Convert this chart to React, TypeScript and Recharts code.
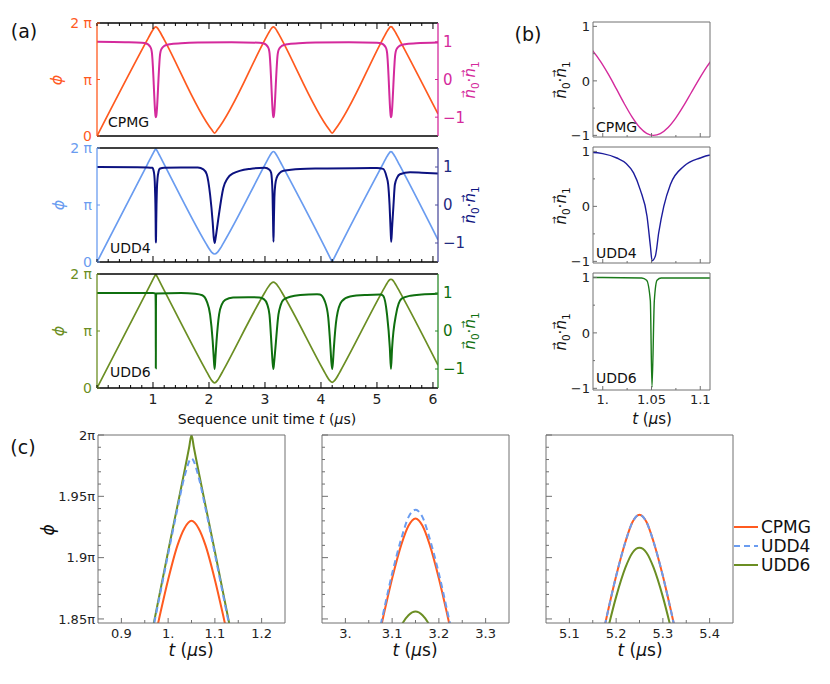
import React from "react";
import {Legend, Line, LineChart, XAxis, YAxis} from "recharts";

// phase phi in units of pi, time t in microseconds
const CPMG_PHI = [
    [0, 0],
    [0.9, 1.706], [0.95, 1.797], [0.98, 1.849], [1.0, 1.882], [1.02, 1.91], [1.035, 1.924], [1.05, 1.93],
    [1.065, 1.924], [1.08, 1.91], [1.1, 1.882], [1.12, 1.849], [1.15, 1.797], [1.2, 1.706],
    [2.05, 0.11], [2.1, 0.05], [2.15, 0.11],
    [3.0, 1.706], [3.05, 1.798], [3.08, 1.85], [3.1, 1.883], [3.12, 1.911], [3.135, 1.926], [3.15, 1.932],
    [3.165, 1.926], [3.18, 1.911], [3.2, 1.883], [3.22, 1.85], [3.25, 1.798], [3.3, 1.706],
    [4.15, 0.11], [4.2, 0.05], [4.25, 0.11],
    [5.1, 1.707], [5.15, 1.799], [5.18, 1.852], [5.2, 1.885], [5.22, 1.913], [5.235, 1.929], [5.25, 1.935],
    [5.265, 1.929], [5.28, 1.913], [5.3, 1.885], [5.32, 1.852], [5.35, 1.799], [5.4, 1.707],
    [6.09, 0.39],
];
const UDD4_PHI = [
    [0, 0],
    [0.9, 1.714], [0.95, 1.809], [0.98, 1.865], [1.0, 1.903], [1.02, 1.94], [1.035, 1.966], [1.05, 1.981],
    [1.065, 1.966], [1.08, 1.94], [1.1, 1.903], [1.12, 1.865], [1.15, 1.809], [1.2, 1.714],
    [1.95, 0.318], [2.0, 0.236], [2.05, 0.169], [2.1, 0.14], [2.15, 0.169], [2.2, 0.236], [2.25, 0.318],
    [3.0, 1.708], [3.05, 1.8], [3.08, 1.853], [3.1, 1.887], [3.12, 1.916], [3.135, 1.933], [3.15, 1.939],
    [3.165, 1.933], [3.18, 1.916], [3.2, 1.887], [3.22, 1.853], [3.25, 1.8], [3.3, 1.708],
    [4.18, 0.04], [4.2, 0.0], [4.22, 0.04],
    [5.1, 1.707], [5.15, 1.799], [5.18, 1.852], [5.2, 1.885], [5.22, 1.913], [5.235, 1.929], [5.25, 1.935],
    [5.265, 1.929], [5.28, 1.913], [5.3, 1.885], [5.32, 1.852], [5.35, 1.799], [5.4, 1.707],
    [6.09, 0.39],
];
const UDD6_PHI = [
    [0, 0],
    [0.9, 1.714], [1.0, 1.905], [1.045, 1.99], [1.05, 2.0], [1.055, 1.99], [1.1, 1.905], [1.2, 1.714],
    [1.95, 0.3], [2.0, 0.211], [2.05, 0.131], [2.1, 0.09], [2.15, 0.131], [2.2, 0.211], [2.25, 0.3],
    [3.0, 1.68], [3.05, 1.761], [3.08, 1.804], [3.1, 1.828], [3.12, 1.845], [3.135, 1.853], [3.15, 1.856],
    [3.165, 1.853], [3.18, 1.845], [3.2, 1.828], [3.22, 1.804], [3.25, 1.761], [3.3, 1.68],
    [4.05, 0.303], [4.1, 0.215], [4.15, 0.138], [4.2, 0.1], [4.25, 0.138], [4.3, 0.215], [4.35, 0.303],
    [5.1, 1.7], [5.15, 1.788], [5.18, 1.838], [5.2, 1.868], [5.22, 1.892], [5.235, 1.904], [5.25, 1.908],
    [5.265, 1.904], [5.28, 1.892], [5.3, 1.868], [5.32, 1.838], [5.35, 1.788], [5.4, 1.7],
    [6.09, 0.4],
];

// overlap n0.n1
const CPMG_N = [
    [0, 1.0], [0.5, 0.99], [0.8, 0.975], [0.88, 0.955], [0.92, 0.92], [0.95, 0.87], [0.97, 0.8], [0.982, 0.696],
    [0.99, 0.544], [0.998, 0.348], [1.006, 0.113], [1.014, -0.148], [1.022, -0.415], [1.03, -0.66],
    [1.038, -0.855], [1.045, -0.963], [1.052, -1.0], [1.059, -0.968], [1.067, -0.856], [1.075, -0.679],
    [1.083, -0.456], [1.091, -0.209], [1.099, 0.036], [1.107, 0.264], [1.115, 0.462], [1.123, 0.622],
    [1.135, 0.74], [1.16, 0.83], [1.2, 0.89], [1.3, 0.935], [1.5, 0.96], [1.8, 0.98], [2.4, 0.99],
    [2.9, 0.975], [2.98, 0.955], [3.02, 0.92], [3.05, 0.87], [3.07, 0.8], [3.082, 0.696],
    [3.09, 0.544], [3.098, 0.348], [3.106, 0.113], [3.114, -0.148], [3.122, -0.415], [3.13, -0.66],
    [3.138, -0.855], [3.145, -0.963], [3.152, -1.0], [3.159, -0.968], [3.167, -0.856], [3.175, -0.679],
    [3.183, -0.456], [3.191, -0.209], [3.199, 0.036], [3.207, 0.264], [3.215, 0.462], [3.223, 0.622],
    [3.235, 0.74], [3.26, 0.83], [3.3, 0.89], [3.4, 0.935], [3.6, 0.96], [3.9, 0.98], [4.5, 0.99],
    [5.0, 0.975], [5.08, 0.955], [5.12, 0.92], [5.15, 0.87], [5.17, 0.8], [5.182, 0.696],
    [5.19, 0.544], [5.198, 0.348], [5.206, 0.113], [5.214, -0.148], [5.222, -0.415], [5.23, -0.66],
    [5.238, -0.855], [5.245, -0.963], [5.252, -1.0], [5.259, -0.968], [5.267, -0.856], [5.275, -0.679],
    [5.283, -0.456], [5.291, -0.209], [5.299, 0.036], [5.307, 0.264], [5.315, 0.462], [5.323, 0.622],
    [5.335, 0.74], [5.36, 0.83], [5.4, 0.89], [5.5, 0.935], [5.7, 0.96], [6.09, 0.98],
];
const UDD4_N = [
    [0, 1.0], [0.7, 0.995], [0.9, 0.99], [0.99, 0.98], [1.0, 0.96], [1.0144, 0.88], [1.024, 0.78], [1.0316, 0.61],
    [1.0385, 0.3], [1.0454, -0.18], [1.0489, -0.73], [1.0506, -0.99], [1.054, -0.9], [1.0574, -0.48],
    [1.0626, 0.0], [1.0694, 0.4], [1.0832, 0.73], [1.1, 0.88], [1.109, 0.93], [1.13, 0.96], [1.2, 0.98],
    [1.5, 0.99], [1.8, 0.985], [1.9, 0.94], [1.96, 0.81], [2.02, 0.27], [2.066, -0.45], [2.085, -0.85],
    [2.1, -1.0], [2.12, -0.85], [2.14, -0.65], [2.167, -0.36], [2.256, 0.45], [2.33, 0.7], [2.43, 0.83],
    [2.73, 0.95], [3.0, 0.98], [3.08, 0.93], [3.11, 0.85], [3.135, 0.3], [3.145, -0.5], [3.152, -0.97],
    [3.158, -0.5], [3.168, 0.2], [3.185, 0.55], [3.21, 0.72], [3.26, 0.84], [3.33, 0.9], [3.63, 0.95],
    [4.0, 0.96], [4.6, 0.97], [5.0, 0.975], [5.11, 0.95], [5.17, 0.75], [5.2, 0.54], [5.225, 0.0],
    [5.245, -0.7], [5.255, -0.97], [5.27, -0.6], [5.295, 0.0], [5.32, 0.54], [5.36, 0.72], [5.41, 0.81],
    [5.59, 0.86], [5.8, 0.85], [6.09, 0.83],
];
const UDD6_N = [
    [0, 1.0], [1.0, 1.0], [1.04, 0.99], [1.045, 0.95], [1.0488, 0.58], [1.0505, -0.98], [1.0529, 0.58],
    [1.0557, 0.95], [1.06, 0.99], [1.5, 1.0], [1.75, 0.98], [1.88, 0.94], [1.96, 0.78], [2.02, 0.43],
    [2.066, -0.26], [2.085, -0.7], [2.1, -1.0], [2.115, -0.7], [2.135, -0.26], [2.18, 0.43], [2.23, 0.7],
    [2.29, 0.82], [2.43, 0.88], [2.7, 0.89], [2.9, 0.88], [2.98, 0.84], [3.04, 0.7], [3.08, 0.43],
    [3.12, -0.45], [3.135, -0.8], [3.15, -1.0], [3.165, -0.8], [3.186, -0.45], [3.24, 0.43], [3.28, 0.68],
    [3.33, 0.82], [3.45, 0.9], [3.63, 0.95], [3.93, 0.97], [3.98, 0.96], [4.07, 0.78], [4.13, 0.35],
    [4.17, -0.45], [4.185, -0.8], [4.2, -1.0], [4.215, -0.8], [4.23, -0.45], [4.28, 0.35], [4.37, 0.78],
    [4.52, 0.91], [4.82, 0.95], [5.06, 0.96], [5.11, 0.93], [5.18, 0.43], [5.23, -0.45], [5.25, -1.0],
    [5.27, -0.45], [5.34, 0.43], [5.44, 0.85], [5.6, 0.93], [5.8, 0.96], [6.09, 0.98],
];

// ticks
const A_X_TICKS = [0, 0.2, 0.4, 0.6, 0.8, 1, 1.2, 1.4, 1.6, 1.8, 2, 2.2, 2.4, 2.6, 2.8, 3, 3.2, 3.4, 3.6, 3.8,
    4, 4.2, 4.4, 4.6, 4.8, 5, 5.2, 5.4, 5.6, 5.8, 6];
const A_X_MAJOR = [1, 2, 3, 4, 5, 6];
const A_X_LABELS = ["1", "2", "3", "4", "5", "6"];
const A_PHI_TICKS = [0, 1, 2];
const A_PHI_LABELS = ["0", "π", "2 π"];
const N_TICKS = [-1, 0, 1];
const N_LABELS = ["−1", "0", "1"];
const B_Y_TICKS = [-1, -0.5, 0, 0.5, 1];
const B_X_TICKS = [1, 1.025, 1.05, 1.075, 1.1];
const B_X_MAJOR = [1, 1.05, 1.1];
const B_X_LABELS = ["1.", "1.05", "1.1"];
const C_Y_TICKS = [1.85, 1.86, 1.87, 1.88, 1.89, 1.9, 1.91, 1.92, 1.93, 1.94, 1.95, 1.96, 1.97, 1.98, 1.99, 2];
const C_Y_MAJOR = [1.85, 1.9, 1.95, 2];
const C_Y_LABELS = ["1.85π", "1.9π", "1.95π", "2π"];
const C1_X_TICKS = [0.9, 0.95, 1, 1.05, 1.1, 1.15, 1.2];
const C1_X_MAJOR = [0.9, 1, 1.1, 1.2];
const C1_X_LABELS = ["0.9", "1.", "1.1", "1.2"];
const C2_X_TICKS = [3, 3.05, 3.1, 3.15, 3.2, 3.25, 3.3];
const C2_X_MAJOR = [3, 3.1, 3.2, 3.3];
const C2_X_LABELS = ["3.", "3.1", "3.2", "3.3"];
const C3_X_TICKS = [5.1, 5.15, 5.2, 5.25, 5.3, 5.35, 5.4];
const C3_X_MAJOR = [5.1, 5.2, 5.3, 5.4];
const C3_X_LABELS = ["5.1", "5.2", "5.3", "5.4"];

const FONT = "'DejaVu Sans', Verdana, sans-serif";
const GRAY = "#707070";
const C = {
    cpmgPhi: "#ff5a1f", cpmgN: "#d42a9c",
    udd4Phi: "#6a9cf0", udd4N: "#0c1280", udd4Axis: "#50509e",
    udd6Phi: "#6b8e23", udd6N: "#0f6f0f", udd6Axis: "#2a8a2a",
};

const pts = (a: number[][]) => a.map(([t, v]) => ({t, v}));

type Side = "left" | "right" | "top" | "bottom";
type TickSpec = {
    side: Side; majors: number[]; labels?: string[]; color?: string; line?: string;
    size?: number; majorLen?: number; minorLen?: number; gap?: number;
};

const near = (a: number, b: number) => Math.abs(a - b) < 1e-6;

function tickOf(s: TickSpec) {
    return function TickMark(props: any) {
        const {x, y, payload} = props;
        const v = Number(payload.value);
        const idx = s.majors.findIndex(m => near(m, v));
        const len = idx >= 0 ? (s.majorLen ?? 5) : (s.minorLen ?? 3);
        const gap = s.gap ?? 4;
        const fs = s.size ?? 13;
        const label = idx >= 0 && s.labels ? s.labels[idx] : null;
        let dx = 0, dy = 0, tx = x, ty = y, anchor = "middle";
        if (s.side === "left") { dx = len; tx = x - gap; ty = y + fs * 0.36; anchor = "end"; }
        if (s.side === "right") { dx = -len; tx = x + gap; ty = y + fs * 0.36; anchor = "start"; }
        if (s.side === "bottom") { dy = -len; ty = y + gap + fs * 0.75; }
        if (s.side === "top") { dy = len; ty = y - gap; }
        return (
            <g>
                {len > 0 && <line x1={x} y1={y} x2={x + dx} y2={y + dy} stroke={s.line ?? s.color ?? "#000"} strokeWidth={1}/>}
                {label && <text x={tx} y={ty} textAnchor={anchor} fill={s.color ?? "#222"} fontSize={fs}
                                fontFamily={FONT}>{label}</text>}
            </g>
        );
    };
}

const noTick = {tick: false as const, tickLine: false, tickSize: 0, tickMargin: 0};
const tickBase = {tickLine: false, tickSize: 0, tickMargin: 0, interval: 0 as const};

function Txt({x, y, children, size = 14, color = "#111", rotate = 0, left = false}: any) {
    return (
        <div style={{
            position: "absolute", left: x, top: y, fontSize: size, color, whiteSpace: "nowrap", lineHeight: 1,
            fontFamily: FONT, transform: `translate(${left ? "0" : "-50%"}, -50%) rotate(${rotate}deg)`,
        }}>{children}</div>
    );
}

// italic n with a small arrow above it
const Vec = () => (
    <span style={{position: "relative", display: "inline-block"}}>
        <i>n</i>
        <span style={{position: "absolute", left: "0.08em", top: "-0.52em", fontSize: "0.62em"}}>→</span>
    </span>
);
const NDot = () => (
    <span><Vec/><sub style={{fontSize: "70%"}}>0</sub>·<Vec/><sub style={{fontSize: "70%"}}>1</sub></span>
);
const TUs = () => <span><i>t</i> (<i>μ</i>s)</span>;

function PanelA({top, plotH, mb, phi, n, phiColor, nColor, leftColor, rightColor, rightText, ticksAt, labels}: any) {
    const xTick = tickOf({side: ticksAt, majors: A_X_MAJOR, labels: labels ? A_X_LABELS : undefined, line: "#000",
        color: "#222", size: 14, majorLen: 6, minorLen: 3, gap: 5});
    return (
        <div style={{position: "absolute", left: 0, top}}>
            <LineChart width={499} height={10 + plotH + 1 + mb} margin={{top: 9, right: 0, bottom: mb, left: 0}}>
                <XAxis xAxisId="b" type="number" dataKey="t" domain={[0, 6.09]} allowDataOverflow height={1}
                       orientation="bottom" axisLine={{stroke: "#000", strokeWidth: 1.3}} ticks={A_X_TICKS}
                       {...(ticksAt === "bottom" ? {...tickBase, tick: xTick} : noTick)}/>
                <XAxis xAxisId="t" type="number" dataKey="t" domain={[0, 6.09]} allowDataOverflow height={1}
                       orientation="top" axisLine={{stroke: "#000", strokeWidth: 1.3}} ticks={A_X_TICKS}
                       {...(ticksAt === "top" ? {...tickBase, tick: xTick} : noTick)}/>
                <YAxis yAxisId="phi" orientation="left" width={97} type="number" domain={[0, 2]} allowDataOverflow
                       ticks={A_PHI_TICKS} axisLine={{stroke: leftColor, strokeWidth: 1.3}} {...tickBase}
                       tick={tickOf({side: "left", majors: A_PHI_TICKS, labels: A_PHI_LABELS, color: leftColor,
                           size: 14, majorLen: 3, gap: 5})}/>
                <YAxis yAxisId="n" orientation="right" width={61} type="number" domain={[-1.5, 1.5]} allowDataOverflow
                       ticks={N_TICKS} axisLine={{stroke: rightColor, strokeWidth: 1.3}} {...tickBase}
                       tick={tickOf({side: "right", majors: N_TICKS, labels: N_LABELS, color: rightText,
                           line: rightColor, size: 15, majorLen: 3, gap: 5})}/>
                <Line xAxisId="b" yAxisId="phi" data={pts(phi)} dataKey="v" type="monotone" stroke={phiColor}
                      strokeWidth={1.7} dot={false} activeDot={false} isAnimationActive={false}/>
                <Line xAxisId="b" yAxisId="n" data={pts(n)} dataKey="v" type="monotone" stroke={nColor}
                      strokeWidth={2} dot={false} activeDot={false} isAnimationActive={false}/>
            </LineChart>
        </div>
    );
}

function PanelB({top, plotH, mb, n, color, labels}: any) {
    return (
        <div style={{position: "absolute", left: 563, top}}>
            <LineChart width={152} height={10 + plotH + 1 + mb} margin={{top: 9, right: 4, bottom: mb, left: 0}}>
                <XAxis xAxisId="b" type="number" dataKey="t" domain={[0.99, 1.11]} allowDataOverflow height={1}
                       axisLine={{stroke: GRAY}} ticks={B_X_TICKS} {...tickBase}
                       tick={tickOf({side: "bottom", majors: B_X_MAJOR, labels: labels ? B_X_LABELS : undefined,
                           line: GRAY, size: 13, majorLen: 4, minorLen: 2, gap: 4})}/>
                <XAxis xAxisId="t" type="number" dataKey="t" domain={[0.99, 1.11]} allowDataOverflow height={1}
                       orientation="top" axisLine={{stroke: GRAY}} {...noTick}/>
                <YAxis yAxisId="n" width={30} type="number" domain={[-1.03, 1.08]} allowDataOverflow
                       ticks={B_Y_TICKS} axisLine={{stroke: GRAY}} {...tickBase}
                       tick={tickOf({side: "left", majors: N_TICKS, labels: N_LABELS, line: GRAY, size: 13,
                           majorLen: 4, minorLen: 2, gap: 3})}/>
                <YAxis yAxisId="r" orientation="right" width={1} type="number" domain={[-1.03, 1.08]}
                       axisLine={{stroke: GRAY}} {...noTick}/>
                <Line xAxisId="b" yAxisId="n" data={pts(n)} dataKey="v" type="monotone" stroke={color}
                      strokeWidth={1.4} dot={false} activeDot={false} isAnimationActive={false}/>
            </LineChart>
        </div>
    );
}

const LEGEND_ORDER = ["CPMG", "UDD4", "UDD6"];

function LegendBox(props: any) {
    const items = [...(props.payload || [])].sort(
        (a: any, b: any) => LEGEND_ORDER.indexOf(a.value) - LEGEND_ORDER.indexOf(b.value));
    return (
        <div style={{fontFamily: FONT}}>
            {items.map((it: any) => (
                <div key={it.value} style={{display: "flex", alignItems: "center", height: 19}}>
                    <svg width={25} height={10}>
                        <line x1={0} x2={24} y1={5} y2={5} stroke={it.color} strokeWidth={2}
                              strokeDasharray={it.payload?.strokeDasharray}/>
                    </svg>
                    <span style={{fontSize: 17, marginLeft: 2, color: "#111"}}>{it.value}</span>
                </div>
            ))}
        </div>
    );
}

function PanelC({left, yw, domain, xt, xm, xl, ylabels, legend}: any) {
    const w = legend ? 294 : yw + 187 + 1 + 5;
    return (
        <div style={{position: "absolute", left, top: 425}}>
            <LineChart width={w} height={224} margin={{top: 9, right: w - yw - 187 - 1, bottom: 25, left: 0}}>
                <XAxis xAxisId="b" type="number" dataKey="t" domain={domain} allowDataOverflow height={1}
                       axisLine={{stroke: GRAY}} ticks={xt} {...tickBase}
                       tick={tickOf({side: "bottom", majors: xm, labels: xl, line: GRAY, size: 13,
                           majorLen: 5, minorLen: 3, gap: 5})}/>
                <XAxis xAxisId="t" type="number" dataKey="t" domain={domain} allowDataOverflow height={1}
                       orientation="top" axisLine={{stroke: GRAY}} {...noTick}/>
                <YAxis yAxisId="p" width={yw} type="number" domain={[1.8467, 2]} allowDataOverflow
                       ticks={C_Y_TICKS} axisLine={{stroke: GRAY}} {...tickBase}
                       tick={tickOf({side: "left", majors: C_Y_MAJOR, labels: ylabels ? C_Y_LABELS : undefined,
                           line: GRAY, size: 13, majorLen: 6, minorLen: 3, gap: 3})}/>
                <YAxis yAxisId="r" orientation="right" width={1} type="number" domain={[1.8467, 2]}
                       axisLine={{stroke: GRAY}} {...noTick}/>
                <Line name="CPMG" xAxisId="b" yAxisId="p" data={pts(CPMG_PHI)} dataKey="v" type="monotone"
                      stroke={C.cpmgPhi} strokeWidth={2} dot={false} activeDot={false} isAnimationActive={false}/>
                <Line name="UDD6" xAxisId="b" yAxisId="p" data={pts(UDD6_PHI)} dataKey="v" type="monotone"
                      stroke={C.udd6Phi} strokeWidth={2} dot={false} activeDot={false} isAnimationActive={false}/>
                <Line name="UDD4" xAxisId="b" yAxisId="p" data={pts(UDD4_PHI)} dataKey="v" type="monotone"
                      stroke={C.udd4Phi} strokeWidth={2} strokeDasharray="6 4" dot={false} activeDot={false}
                      isAnimationActive={false}/>
                {legend && <Legend layout="vertical" align="center" verticalAlign="middle" content={LegendBox}
                                   wrapperStyle={{left: 198, top: 92, width: 90}}/>}
            </LineChart>
        </div>
    );
}

export default function App() {
    return (
        <div style={{position: "absolute", left: 0, top: 0, width: 830, height: 684, background: "#fff",
            fontFamily: FONT}}>
            <PanelA top={13} plotH={113} mb={8} phi={CPMG_PHI} n={CPMG_N} phiColor={C.cpmgPhi} nColor={C.cpmgN}
                    leftColor={C.cpmgPhi} rightColor={C.cpmgN} rightText={C.cpmgN} ticksAt="top"/>
            <PanelA top={138} plotH={114} mb={8} phi={UDD4_PHI} n={UDD4_N} phiColor={C.udd4Phi} nColor={C.udd4N}
                    leftColor={C.udd4Phi} rightColor={C.udd4Axis} rightText="#1f2a80" ticksAt="bottom"/>
            <PanelA top={264} plotH={114} mb={24} phi={UDD6_PHI} n={UDD6_N} phiColor={C.udd6Phi} nColor={C.udd6N}
                    leftColor={C.udd6Phi} rightColor={C.udd6Axis} rightText={C.udd6N} ticksAt="bottom" labels/>

            <PanelB top={12} plotH={115} mb={6} n={CPMG_N} color={C.cpmgN}/>
            <PanelB top={137} plotH={116} mb={6} n={UDD4_N} color="#1c1c9c"/>
            <PanelB top={263} plotH={117} mb={22} n={UDD6_N} color="#1a7a1a" labels/>

            <PanelC left={38} yw={60} domain={[0.85, 1.25]} xt={C1_X_TICKS} xm={C1_X_MAJOR} xl={C1_X_LABELS} ylabels/>
            <PanelC left={312} yw={10} domain={[2.95, 3.35]} xt={C2_X_TICKS} xm={C2_X_MAJOR} xl={C2_X_LABELS}/>
            <PanelC left={536} yw={10} domain={[5.05, 5.45]} xt={C3_X_TICKS} xm={C3_X_MAJOR} xl={C3_X_LABELS} legend/>

            <Txt x={24} y={31} size={19}>(a)</Txt>
            <Txt x={528} y={34} size={19}>(b)</Txt>
            <Txt x={23} y={447} size={19}>(c)</Txt>

            <Txt x={57} y={80} size={16} color={C.cpmgPhi} rotate={-90}><i>ϕ</i></Txt>
            <Txt x={59} y={205} size={16} color={C.udd4Phi} rotate={-90}><i>ϕ</i></Txt>
            <Txt x={59} y={331} size={16} color={C.udd6Phi} rotate={-90}><i>ϕ</i></Txt>
            <Txt x={472} y={80} size={15} color={C.cpmgN} rotate={-90}><NDot/></Txt>
            <Txt x={472} y={205} size={15} color={C.udd4N} rotate={-90}><NDot/></Txt>
            <Txt x={472} y={331} size={15} color={C.udd6N} rotate={-90}><NDot/></Txt>

            <Txt x={108} y={122} size={14} left>CPMG</Txt>
            <Txt x={110} y={248} size={14} left>UDD4</Txt>
            <Txt x={110} y={372} size={14} left>UDD6</Txt>
            <Txt x={267} y={419} size={14}>Sequence unit time <TUs/></Txt>

            <Txt x={563} y={80} size={15} rotate={-90}><NDot/></Txt>
            <Txt x={563} y={206} size={15} rotate={-90}><NDot/></Txt>
            <Txt x={563} y={332} size={15} rotate={-90}><NDot/></Txt>
            <Txt x={596} y={127} size={14} left>CPMG</Txt>
            <Txt x={596} y={253} size={14} left>UDD4</Txt>
            <Txt x={596} y={378} size={14} left>UDD6</Txt>
            <Txt x={652} y={419} size={15}><TUs/></Txt>

            <Txt x={48} y={530} size={17} rotate={-90}><i>ϕ</i></Txt>
            <Txt x={191} y={650} size={17}><TUs/></Txt>
            <Txt x={415} y={650} size={17}><TUs/></Txt>
            <Txt x={640} y={650} size={17}><TUs/></Txt>
        </div>
    );
}
